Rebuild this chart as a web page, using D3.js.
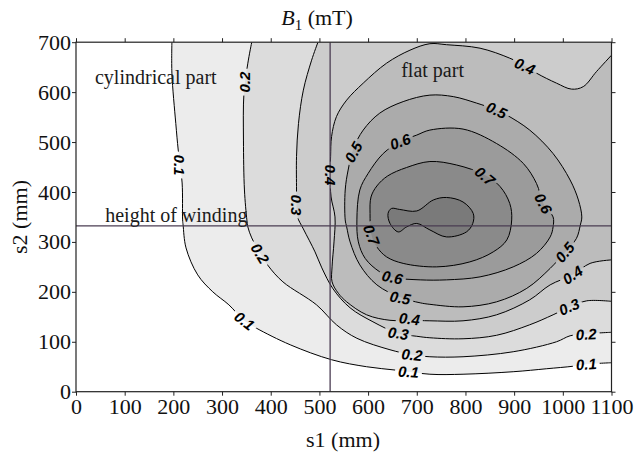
<!DOCTYPE html>
<html><head><meta charset="utf-8">
<script src="https://cdn.jsdelivr.net/npm/d3@7"></script>
<style>
body{margin:0;background:#fff}
svg{display:block}
</style></head><body>
<svg id="chart" width="634" height="463"></svg>
<script>
// Isolines of B1 (mT); each point is [s1, s2] in mm
const iso01 = [[197,700],[197,638],[205,537],[210,484],[218,418],[219,344],[220,334],[226,288],[250,234],[281,200],[314,174],[346,142],[371,127],[440,94],[525,64],[597,50],[659,43],[727,35],[795,35],[898,40],[967,46],[1021,51],[1048,55],[1100,58]];
const iso02 = [[361,700],[353,658],[345,598],[344,504],[346,404],[351,344],[353,330],[361,308],[378,278],[395,252],[425,220],[494,174],[535,134],[577,107],[645,84],[690,74],[727,70],[795,70],[898,80],[987,100],[1015,112],[1049,116],[1100,119]];
const iso03 = [[497,700],[484,664],[467,604],[457,537],[453,471],[453,404],[453,374],[455,350],[467,326],[491,280],[505,248],[528,206],[563,168],[610,140],[661,117],[700,111],[727,108],[795,106],[864,113],[932,134],[980,154],[1015,170],[1049,182],[1100,181]];
const iso04 = [[1100,674],[1069,641],[1042,611],[1018,606],[987,618],[946,638],[922,653],[891,668],[830,688],[761,695],[727,697],[686,684],[638,658],[590,618],[556,584],[535,551],[525,511],[523,471],[522,434],[524,390],[532,350],[530,300],[526,250],[526,220],[539,197],[556,180],[597,154],[645,143],[686,143],[727,142],[795,142],[864,154],[932,184],[974,214],[1020,234],[1056,257],[1100,264]];
const iso05 = [[864,564],[823,578],[775,591],[727,594],[672,581],[624,558],[590,524],[570,487],[559,444],[553,404],[553,344],[556,330],[563,300],[583,254],[618,214],[666,189],[707,178],[727,175],[795,170],[864,180],[926,207],[974,247],[1005,280],[1028,307],[1036,334],[1039,350],[1032,384],[1015,424],[980,477],[932,524],[885,554]];
const iso06 = [[666,501],[700,514],[727,524],[795,526],[864,497],[919,457],[946,417],[960,377],[980,350],[980,330],[974,310],[946,277],[898,250],[830,230],[761,224],[707,224],[650,229],[624,240],[594,267],[580,300],[577,344],[583,404],[600,437],[631,477]];
const iso07 = [[727,461],[782,454],[840,434],[871,411],[891,377],[895,344],[885,304],[857,280],[809,260],[741,250],[672,257],[638,270],[618,290],[607,314],[604,357],[606,390],[618,412],[640,432],[679,449]];
const iso08 = [[641,357],[648,367],[665,365],[700,362],[734,384],[761,389],[795,380],[816,357],[815,337],[802,320],[761,310],[727,324],[700,337],[679,330],[662,320],[645,337]];

const levels = [0.1, 0.2, 0.3, 0.4, 0.5, 0.6, 0.7, 0.8];
const isolines = [iso01, iso02, iso03, iso04, iso05, iso06, iso07, iso08];

// Contour labels: [level, s1, s2, rotation in degrees]
const contourLabels = [
  [0.1, 212, 454, 90], [0.1, 346, 142, 38], [0.1, 683, 40, 4], [0.1, 1048, 55, -4],
  [0.2, 347, 620, -90], [0.2, 378, 277, 58], [0.2, 690, 74, 6], [0.2, 1048, 115, -3],
  [0.3, 453, 374, 90], [0.3, 662, 117, 8], [0.3, 1013, 170, -24],
  [0.4, 922, 652, 24], [0.4, 522, 434, 90], [0.4, 685, 146, 6], [0.4, 1020, 234, -34],
  [0.5, 570, 480, -62], [0.5, 864, 564, 24], [0.5, 666, 188, 10], [0.5, 1004, 279, -50],
  [0.6, 666, 501, -20], [0.6, 960, 377, 62], [0.6, 650, 229, 12],
  [0.7, 840, 432, 40], [0.7, 607, 314, 70]
];

const xTicks = [0,100,200,300,400,500,600,700,800,900,1000,1100];
const yTicks = [0,100,200,300,400,500,600,700];

const flatStart = 522;      // s1 where the flat part begins
const windingHeight = 332;  // s2 at the top of the winding

const notes = [
  {text: "cylindrical part", s1: 39, s2: 616},
  {text: "flat part", s1: 668, s2: 630},
  {text: "height of winding", s1: 60, s2: 340}
];

// ---- drawing ----
const svg = d3.select("#chart");
const x = d3.scaleLinear().domain([0, 1100]).range([76, 611.5]);
const y = d3.scaleLinear().domain([0, 700]).range([391.7, 42.2]);

const shades = ["#ececec", "#dcdcdc", "#cccccc", "#bcbcbc", "#ababab", "#9b9b9b", "#8a8a8a", "#7a7a7a"];
const serif = "'Liberation Serif','Times New Roman',serif";

const defs = svg.append("defs");
defs.append("clipPath").attr("id", "plotClip")
  .append("rect").attr("x", x(0)).attr("y", y(700))
  .attr("width", x(1100) - x(0)).attr("height", y(0) - y(700));

const openLine = d3.line().x(d => x(d[0])).y(d => y(d[1])).curve(d3.curveCatmullRom.alpha(0.5));
const loopLine = d3.line().x(d => x(d[0])).y(d => y(d[1])).curve(d3.curveCatmullRomClosed.alpha(0.5));

function isOpen(i) { return i <= 3; }
function areaPath(i) {
  const pts = isolines[i];
  if (i <= 2) return openLine(pts) + "L" + x(1100) + "," + y(700) + "Z";
  if (i === 3) return openLine(pts) + "Z";
  return loopLine(pts);
}
function linePath(i) {
  return isOpen(i) ? openLine(isolines[i]) : loopLine(isolines[i]);
}

const plot = svg.append("g").attr("clip-path", "url(#plotClip)");
plot.append("rect").attr("x", x(0)).attr("y", y(700))
  .attr("width", x(1100) - x(0)).attr("height", y(0) - y(700)).attr("fill", "#ffffff");

plot.selectAll("path.band").data(levels).join("path")
  .attr("class", "band")
  .attr("d", (d, i) => areaPath(i))
  .attr("fill", (d, i) => shades[i])
  .attr("stroke", "none");

// gaps in the isolines where the level labels sit
const mask = defs.append("mask").attr("id", "labelGaps").attr("maskUnits", "userSpaceOnUse")
  .attr("x", 0).attr("y", 0).attr("width", 634).attr("height", 463);
mask.append("rect").attr("x", 0).attr("y", 0).attr("width", 634).attr("height", 463).attr("fill", "white");

const lineLayer = plot.append("g").attr("mask", "url(#labelGaps)");
lineLayer.selectAll("path.iso").data(levels).join("path")
  .attr("class", "iso")
  .attr("d", (d, i) => linePath(i))
  .attr("fill", "none")
  .attr("stroke", "#000")
  .attr("stroke-width", 1);

// reference lines
plot.append("line").attr("x1", x(flatStart)).attr("x2", x(flatStart))
  .attr("y1", y(0)).attr("y2", y(700)).attr("stroke", "#4a3c52").attr("stroke-width", 1.3);
plot.append("line").attr("x1", x(0)).attr("x2", x(1100))
  .attr("y1", y(windingHeight)).attr("y2", y(windingHeight)).attr("stroke", "#4a3c52").attr("stroke-width", 1.3);

const labelLayer = svg.append("g");
contourLabels.forEach(([lv, s1, s2, ang]) => {
  const g = labelLayer.append("g")
    .attr("transform", `translate(${x(s1)},${y(s2)}) rotate(${ang})`);
  const t = g.append("text").text(lv.toFixed(1))
    .attr("text-anchor", "middle").attr("dy", "0.36em")
    .attr("font-family", "'Liberation Sans', Arial, sans-serif")
    .attr("font-weight", "bold").attr("font-style", "italic")
    .attr("font-size", 15).attr("fill", "#000");
  const w = t.node().getComputedTextLength();
  mask.append("rect")
    .attr("transform", `translate(${x(s1)},${y(s2)}) rotate(${ang})`)
    .attr("x", -w / 2 - 3).attr("y", -7).attr("width", w + 6).attr("height", 14)
    .attr("fill", "black");
});

// annotations
svg.append("g").selectAll("text").data(notes).join("text")
  .attr("x", d => x(d.s1)).attr("y", d => y(d.s2))
  .attr("font-family", serif).attr("font-size", 20).attr("fill", "#1a1a1a")
  .text(d => d.text);

// frame and axes
const tickLen = 4;
const axB = svg.append("g").attr("transform", `translate(0,${y(0)})`)
  .call(d3.axisBottom(x).tickValues(xTicks).tickSize(tickLen).tickPadding(3).tickFormat(d3.format("d")));
const axL = svg.append("g").attr("transform", `translate(${x(0)},0)`)
  .call(d3.axisLeft(y).tickValues(yTicks).tickSize(tickLen).tickPadding(1).tickFormat(d3.format("d")));
const axT = svg.append("g").attr("transform", `translate(0,${y(700)})`)
  .call(d3.axisTop(x).tickValues(xTicks).tickSize(tickLen).tickFormat(""));
const axR = svg.append("g").attr("transform", `translate(${x(1100)},0)`)
  .call(d3.axisRight(y).tickValues(yTicks).tickSize(tickLen).tickFormat(""));
[axB, axL, axT, axR].forEach(a => {
  a.attr("font-family", serif).attr("font-size", 22);
  a.select(".domain").remove();
  a.selectAll("line").attr("stroke", "#222");
  a.selectAll("text").attr("fill", "#111");
});
svg.append("rect").attr("x", x(0)).attr("y", y(700))
  .attr("width", x(1100) - x(0)).attr("height", y(0) - y(700))
  .attr("fill", "none").attr("stroke", "#222").attr("stroke-width", 1.2);

// titles
const title = svg.append("text").attr("x", 317).attr("y", 25)
  .attr("text-anchor", "middle").attr("font-family", serif).attr("font-size", 22).attr("fill", "#111");
title.append("tspan").attr("font-style", "italic").text("B");
title.append("tspan").attr("font-size", 15).attr("dy", 5).text("1");
title.append("tspan").attr("dy", -5).text(" (mT)");

svg.append("text").attr("x", 343).attr("y", 447).attr("text-anchor", "middle")
  .attr("font-family", serif).attr("font-size", 22).attr("fill", "#111").text("s1 (mm)");
svg.append("text").attr("transform", "translate(27,217) rotate(-90)").attr("text-anchor", "middle")
  .attr("font-family", serif).attr("font-size", 22).attr("fill", "#111").text("s2 (mm)");
</script>
</body></html>
